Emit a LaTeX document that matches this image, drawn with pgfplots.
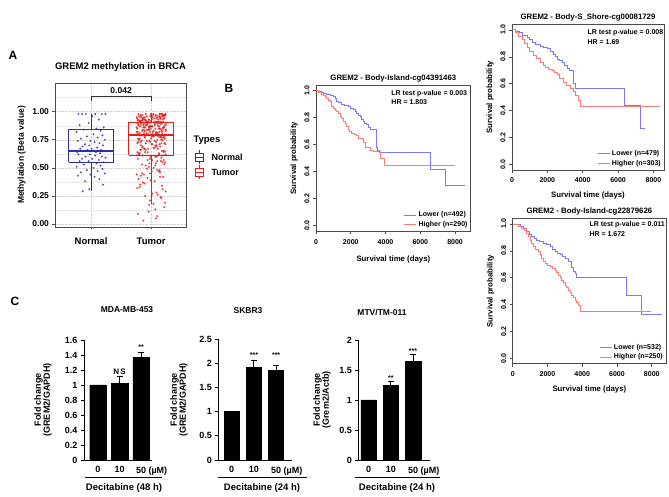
\documentclass[border=0pt]{standalone}
\usepackage{pgfplots}
\pgfplotsset{compat=1.18}
\usepackage{pgfplotstable}
\usepackage{fontspec}
\setmainfont{Liberation Sans}
\definecolor{nblue}{RGB}{45,45,175}
\definecolor{tred}{RGB}{228,30,30}
\definecolor{kmblue}{RGB}{120,120,255}
\definecolor{kmred}{RGB}{255,120,120}
\newcommand\bfs[1]{\fontsize{#1}{#1}\selectfont\bfseries}

\pgfplotstableread{
x y
0.79 0.98
1.07 0.98
1.18 0.98
0.91 0.98
1.24 0.98
0.85 0.98
1.02 0.96
1.13 0.93
0.96 0.90
0.81 0.88
1.21 0.86
1.09 0.85
0.88 0.84
1.16 0.83
0.76 0.82
1.04 0.80
1.19 0.79
0.93 0.78
1.11 0.77
0.83 0.76
1.23 0.75
0.99 0.74
0.78 0.74
1.06 0.73
1.14 0.72
0.90 0.71
1.20 0.70
0.97 0.70
0.86 0.69
1.10 0.68
0.82 0.67
1.01 0.67
1.17 0.66
0.94 0.66
1.22 0.65
0.89 0.65
1.08 0.64
0.77 0.64
1.15 0.63
0.98 0.62
0.79 0.62
1.07 0.61
1.18 0.60
0.91 0.60
1.24 0.59
0.85 0.58
1.02 0.58
1.13 0.57
0.96 0.56
0.81 0.56
1.21 0.55
1.09 0.54
0.88 0.53
1.16 0.52
0.76 0.51
1.04 0.50
1.19 0.49
0.93 0.48
1.11 0.47
0.83 0.46
1.23 0.45
0.99 0.44
0.78 0.43
1.06 0.42
1.14 0.40
0.90 0.38
1.20 0.35
0.97 0.31
0.86 0.29
}\normalpts

\pgfplotstableread{
x y
1.91 0.98
2.21 0.97
1.93 0.96
2.14 0.98
2.01 0.95
2.15 0.94
1.85 0.97
1.88 0.93
1.83 0.92
2.20 0.96
1.94 0.91
1.79 0.98
2.13 0.90
1.76 0.95
1.99 0.97
1.86 0.94
1.89 0.93
2.18 0.96
1.81 0.92
2.19 0.98
2.06 0.91
1.82 0.95
1.77 0.90
2.24 0.97
2.09 0.94
2.11 0.96
1.90 0.93
2.17 0.98
1.98 0.92
2.02 0.95
2.16 0.91
2.23 0.97
1.97 0.90
2.22 0.94
2.07 0.96
1.96 0.93
2.04 0.98
1.78 0.92
2.10 0.95
2.08 0.97
1.91 0.91
2.21 0.94
1.93 0.90
2.14 0.96
2.01 0.93
2.15 0.98
1.85 0.92
1.88 0.95
1.83 0.97
2.20 0.91
1.94 0.89
1.79 0.88
2.13 0.87
1.76 0.86
1.99 0.85
1.86 0.84
1.89 0.83
2.18 0.82
1.81 0.81
2.19 0.80
2.06 0.89
1.82 0.87
1.77 0.85
2.24 0.83
2.09 0.81
2.11 0.88
1.90 0.86
2.17 0.84
1.98 0.82
2.02 0.80
2.16 0.89
2.23 0.88
1.97 0.87
2.22 0.86
2.07 0.85
1.96 0.84
2.04 0.83
1.78 0.82
2.10 0.81
2.08 0.80
1.91 0.88
2.21 0.86
1.93 0.84
2.14 0.82
2.01 0.87
2.15 0.85
1.85 0.83
1.88 0.81
1.83 0.89
2.20 0.86
1.94 0.84
1.79 0.88
2.13 0.85
1.76 0.82
1.99 0.87
1.86 0.79
1.89 0.78
2.18 0.77
1.81 0.76
2.19 0.75
2.06 0.74
1.82 0.73
1.77 0.72
2.24 0.71
2.09 0.70
2.11 0.79
1.90 0.77
2.17 0.75
1.98 0.73
2.02 0.71
2.16 0.78
2.23 0.76
1.97 0.74
2.22 0.72
2.07 0.70
1.96 0.79
2.04 0.78
1.78 0.76
2.10 0.75
2.08 0.73
1.91 0.72
2.21 0.77
1.93 0.74
2.14 0.71
2.01 0.78
2.15 0.69
1.85 0.68
1.88 0.67
1.83 0.66
2.20 0.65
1.94 0.64
1.79 0.63
2.13 0.62
1.76 0.61
1.99 0.60
1.86 0.69
1.89 0.67
2.18 0.65
1.81 0.63
2.19 0.61
2.06 0.68
1.82 0.66
1.77 0.64
2.24 0.62
2.09 0.60
2.11 0.67
1.90 0.64
2.17 0.59
1.98 0.58
2.02 0.57
2.16 0.56
2.23 0.55
1.97 0.54
2.22 0.53
2.07 0.52
1.96 0.51
2.04 0.50
1.78 0.58
2.10 0.56
2.08 0.54
1.91 0.52
2.21 0.57
1.93 0.49
2.14 0.48
2.01 0.47
2.15 0.46
1.85 0.45
1.88 0.44
1.83 0.43
2.20 0.42
1.94 0.41
1.79 0.40
2.13 0.47
1.76 0.44
1.99 0.39
1.86 0.37
1.89 0.36
2.18 0.34
1.81 0.33
2.19 0.31
2.06 0.38
1.82 0.35
1.77 0.32
2.24 0.29
2.09 0.28
2.11 0.26
1.90 0.25
2.17 0.23
1.98 0.21
2.02 0.27
2.16 0.24
2.23 0.19
1.97 0.17
2.22 0.15
2.07 0.13
1.96 0.11
2.04 0.18
1.78 0.09
2.10 0.07
2.08 0.05
1.87 0.03
2.03 0.97
1.84 0.95
2.12 0.93
1.95 0.91
2.25 0.89
1.80 0.96
2.05 0.94
1.92 0.92
2.18 0.90
1.87 0.88
2.00 0.98
2.22 0.96
1.78 0.93
2.08 0.91
1.97 0.87
2.15 0.95
1.82 0.92
2.11 0.90
1.89 0.86
2.20 0.97
2.20 0.85
1.89 0.83
2.11 0.81
1.82 0.79
2.15 0.77
1.97 0.84
2.08 0.82
1.78 0.80
2.22 0.78
2.00 0.76
1.87 0.86
2.18 0.83
1.92 0.81
2.05 0.79
1.80 0.75
2.25 0.84
1.95 0.80
2.12 0.78
1.84 0.74
2.03 0.82
1.99 0.96
2.16 0.94
1.81 0.92
2.09 0.90
1.93 0.88
2.23 0.97
1.86 0.93
2.13 0.91
1.79 0.89
2.02 0.87
1.90 0.95
2.19 0.93
1.84 0.90
2.06 0.88
1.96 0.86
2.24 0.98
1.77 0.94
2.11 0.91
1.88 0.89
2.14 0.85
2.17 0.72
1.83 0.70
2.04 0.68
1.91 0.66
2.21 0.64
1.78 0.73
2.09 0.69
1.95 0.67
2.13 0.63
1.86 0.61
2.01 0.71
2.23 0.65
1.80 0.62
2.07 0.60
1.94 0.57
2.19 0.55
1.85 0.53
2.10 0.48
1.98 0.45
2.15 0.42
}\tumorpts

\pgfplotsset{
  kmaxis/.style={scale only axis, xmin=0, ymin=-0.04, ymax=1.04,
    xtick={0,2000,4000,6000,8000}, ytick={0,0.2,0.4,0.6,0.8,1},
    yticklabels={0.0,0.2,0.4,0.6,0.8,1.0},
    scaled ticks=false,
    /pgf/number format/assume math mode=true,
    /pgf/number format/1000 sep={},
    yticklabel style={rotate=90, anchor=south},
    xticklabel style={yshift=-1.5pt},
    tick align=outside, tick pos=left, major tick length=3pt,
    axis line style={black!70, line width=0.6pt}, tick style={black!70, line width=0.6pt},
    ticklabel style={font=\bfs{7}},
    label style={font=\bfs{7.8}},
    xlabel={Survival time (days)}, ylabel={Survival probability},
    xlabel style={yshift=-5pt},
    title style={font=\bfs{7.8}, at={(0.5,1)}, anchor=base, yshift=-1pt},
    legend style={at={(rel axis cs:1,0)}, anchor=south east, draw=none, fill=none,
      font=\bfs{7}, row sep=-1pt, inner sep=1pt, cells={anchor=west}},
    clip=false,
  },
  lowleg/.style={legend image code/.code={\draw[kmblue, line width=0.9pt] (0pt,0pt) -- (12pt,0pt);}},
  highleg/.style={legend image code/.code={\draw[kmred, line width=0.9pt] (0pt,0pt) -- (12pt,0pt);}},
  barax/.style={scale only axis, axis x line*=bottom, axis y line*=left, ymin=0,
    xtick={0,1,2}, xticklabels={0,10,50\rlap{ (µM)}},
    /pgf/number format/assume math mode=true,
    major x tick style={draw=none}, tick align=outside, major tick length=3pt,
    axis line style={black, line width=0.8pt, -}, tick style={black, line width=0.7pt},
    ticklabel style={font=\bfs{9}}, clip=false},
}

\begin{document}
\begin{tikzpicture}
\path[use as bounding box] (0pt,0pt) rectangle (669pt,497pt);

% ---------------- Panel A ----------------
\node[font=\bfs{12}] at (13pt,442pt) {A};
\begin{axis}[at={(55pt,270pt)}, anchor=south west, scale only axis, width=131pt, height=144pt,
  xmin=0.4, xmax=2.58, ymin=-0.027, ymax=1.256,
  xtick={1,2}, xticklabels={Normal,Tumor},
  ytick={0,0.25,0.5,0.75,1}, yticklabels={0.00,0.25,0.50,0.75,1.00},
  minor ytick={0.125,0.375,0.625,0.875,1.125},
  xmajorgrids, ymajorgrids, yminorgrids,
  major grid style={gray!35, densely dotted, line width=0.5pt},
  minor grid style={gray!25, densely dotted, line width=0.4pt},
  minor tick length=0pt, major tick length=2.5pt, tick align=outside, tick pos=left,
  axis line style={gray!60!black, line width=0.7pt}, tick style={gray!60!black, line width=0.6pt},
  xticklabel style={font=\bfs{9.5}, yshift=-5pt}, yticklabel style={font=\bfs{8.5}},
  ylabel={Methylation (Beta value)}, ylabel style={font=\bfs{8.5}},
  title={GREM2 methylation in BRCA},
  title style={font=\bfs{9.5}, at={(0.5,1)}, anchor=base, yshift=7.5pt},
  clip=false]
\addplot[only marks, mark=*, color=nblue, mark size=0.8pt, mark options={draw=nblue, fill=nblue, opacity=0.7}] table {\normalpts};
\addplot[only marks, mark=*, color=tred, mark size=0.85pt, mark options={draw=tred, fill=tred, opacity=0.7}] table {\tumorpts};
% Normal box
\addplot[nblue, line width=1pt] coordinates {(0.625,0.55) (1.375,0.55) (1.375,0.84) (0.625,0.84) (0.625,0.55)};
\addplot[nblue, line width=1.8pt] coordinates {(0.625,0.65) (1.375,0.65)};
\addplot[nblue, line width=1pt] coordinates {(1,0.84) (1,0.98)};
\addplot[nblue, line width=1pt] coordinates {(1,0.55) (1,0.29)};
% Tumor box
\addplot[tred, line width=1pt] coordinates {(1.625,0.61) (2.375,0.61) (2.375,0.90) (1.625,0.90) (1.625,0.61)};
\addplot[tred, line width=1.8pt] coordinates {(1.625,0.79) (2.375,0.79)};
\addplot[tred, line width=1pt] coordinates {(2,0.90) (2,0.98)};
\addplot[tred, line width=1pt] coordinates {(2,0.61) (2,0.18)};
\addplot[black!80, line width=0.6pt] coordinates {(1,1.10) (1,1.134) (2,1.134) (2,1.10)};
\node[font=\bfs{8.5}] at (axis cs:1.5,1.185) {0.042};
\end{axis}
% legend A
\node[anchor=west, font=\bfs{9.5}] at (190pt,357pt) {Types};
\draw[nblue, line width=0.8pt] (195pt,344pt) rectangle (203pt,336pt);
\draw[nblue, line width=0.8pt] (195pt,340pt) -- (203pt,340pt) (199pt,347pt) -- (199pt,344pt) (199pt,336pt) -- (199pt,333pt);
\node[anchor=west, font=\bfs{9}] at (208pt,340pt) {Normal};
\draw[tred, line width=0.8pt] (195pt,329pt) rectangle (203pt,321pt);
\draw[tred, line width=0.8pt] (195pt,325pt) -- (203pt,325pt) (199pt,332pt) -- (199pt,329pt) (199pt,321pt) -- (199pt,318pt);
\node[anchor=west, font=\bfs{9}] at (208pt,325pt) {Tumor};

% ---------------- Panel B ----------------
\node[font=\bfs{12}] at (229pt,409pt) {B};
\begin{axis}[kmaxis, at={(316pt,265.9pt)}, anchor=south west, width=154.7pt, height=145.8pt,
  xmax=8900, title={GREM2 - Body-Island-cg04391463}]
\addplot[const plot, kmblue, line width=0.8pt, lowleg] coordinates {(0,1)(150,0.995)(300,0.99)(450,0.98)(614,0.973)(800,0.965)(997,0.956)(1100,0.94)(1189,0.92)(1300,0.91)(1477,0.90)(1650,0.89)(1860,0.88)(2000,0.87)(2148,0.86)(2250,0.845)(2340,0.83)(2450,0.82)(2532,0.81)(2628,0.79)(2700,0.77)(2800,0.76)(2915,0.75)(3000,0.73)(3107,0.71)(3491,0.58)(3560,0.56)(3644,0.54)(6560,0.42)(7442,0.30)(8575,0.30)};
\addlegendentry{Lower (n=492)}
\addplot[const plot, kmred, line width=0.8pt, highleg] coordinates {(0,1)(120,0.99)(230,0.985)(330,0.975)(422,0.968)(520,0.955)(614,0.943)(700,0.93)(806,0.92)(900,0.88)(1000,0.87)(1093,0.857)(1190,0.845)(1285,0.83)(1380,0.81)(1477,0.795)(1570,0.775)(1669,0.758)(1760,0.735)(1860,0.71)(1950,0.70)(2052,0.684)(2200,0.675)(2340,0.67)(2436,0.647)(2700,0.62)(2820,0.58)(3150,0.56)(3299,0.548)(3683,0.50)(3913,0.45)(8000,0.45)};
\addlegendentry{Higher (n=290)}
\node[anchor=west, font=\bfs{7}, yshift=-8pt] at (rel axis cs:0.465,1) {LR test p-value = 0.003};
\node[anchor=west, font=\bfs{7}, yshift=-17pt] at (rel axis cs:0.465,1) {HR = 1.803};
\end{axis}

\begin{axis}[kmaxis, at={(512pt,327pt)}, anchor=south west, width=152pt, height=145.5pt,
  xmax=8600, title={GREM2 - Body-S\_Shore-cg00081729}, xlabel style={yshift=3pt}]
\addplot[const plot, kmblue, line width=0.8pt, lowleg] coordinates {(0,1)(200,0.99)(400,0.98)(600,0.96)(847,0.945)(1000,0.93)(1130,0.91)(1350,0.895)(1600,0.88)(1800,0.87)(1976,0.86)(2150,0.84)(2353,0.82)(2450,0.80)(2541,0.78)(2700,0.77)(2824,0.76)(2950,0.74)(3106,0.715)(3250,0.70)(3460,0.60)(3576,0.567)(6350,0.44)(7250,0.27)(7530,0.27)};
\addlegendentry{Lower (n=479)}
\addplot[const plot, kmred, line width=0.8pt, highleg] coordinates {(0,1)(188,0.98)(380,0.955)(565,0.93)(700,0.90)(847,0.87)(1000,0.84)(1224,0.81)(1400,0.785)(1600,0.76)(1750,0.74)(1882,0.72)(2050,0.71)(2259,0.70)(2400,0.685)(2541,0.67)(2700,0.64)(2918,0.61)(3100,0.59)(3294,0.567)(3450,0.54)(3576,0.51)(3765,0.475)(3859,0.43)(8376,0.43)};
\addlegendentry{Higher (n=303)}
\node[anchor=west, font=\bfs{7}, yshift=-8pt] at (rel axis cs:0.474,1) {LR test p-value = 0.008};
\node[anchor=west, font=\bfs{7}, yshift=-17.5pt] at (rel axis cs:0.474,1) {HR = 1.69};
\end{axis}

\begin{axis}[kmaxis, at={(512.7pt,133.3pt)}, anchor=south west, width=153.3pt, height=145.1pt,
  xmax=8820, title={GREM2 - Body-Island-cg22879626}, xlabel style={yshift=3pt}]
\addplot[const plot, kmblue, line width=0.8pt, lowleg] coordinates {(0,1)(422,0.98)(600,0.965)(806,0.943)(950,0.925)(1094,0.906)(1250,0.89)(1381,0.88)(1550,0.87)(1765,0.856)(1950,0.845)(2149,0.83)(2300,0.81)(2436,0.794)(2600,0.78)(2724,0.77)(2850,0.76)(3012,0.744)(3204,0.725)(3396,0.68)(3492,0.645)(3588,0.633)(3683,0.60)(6523,0.466)(7386,0.33)(8576,0.33)};
\addlegendentry{Lower (n=532)}
\addplot[const plot, kmred, line width=0.8pt, highleg] coordinates {(0,1)(300,0.985)(518,0.968)(650,0.95)(806,0.93)(900,0.905)(998,0.88)(1100,0.855)(1190,0.83)(1330,0.81)(1477,0.794)(1569,0.77)(1669,0.744)(1760,0.725)(1861,0.707)(2000,0.695)(2149,0.682)(2300,0.67)(2436,0.657)(2530,0.64)(2628,0.62)(2720,0.60)(2820,0.583)(2920,0.565)(3012,0.546)(3110,0.528)(3204,0.509)(3300,0.49)(3396,0.471)(3490,0.452)(3588,0.434)(3680,0.415)(3780,0.397)(3914,0.347)(7942,0.347)};
\addlegendentry{Higher (n=250)}
\node[anchor=west, font=\bfs{7}, yshift=-6.5pt] at (rel axis cs:0.478,1) {LR test p-value = 0.011};
\node[anchor=west, font=\bfs{7}, yshift=-15.5pt] at (rel axis cs:0.478,1) {HR = 1.672};
\end{axis}

% ---------------- Panel C ----------------
\node[font=\bfs{12}] at (15pt,196pt) {C};
\begin{axis}[barax, at={(84pt,37pt)}, anchor=south west, width=68pt, height=120pt,
  xmin=-0.65, xmax=2.51, ymax=1.6, ytick={0,0.2,0.4,0.6,0.8,1,1.2,1.4,1.6}]
\addplot[ybar, bar width=16.5pt, fill=black, draw=black,
  error bars/.cd, y dir=plus, y explicit, error bar style={black, line width=0.8pt},
  error mark options={black, rotate=90, mark size=3pt, line width=0.8pt}]
  coordinates {(0,1.0) +- (0,0) (1,1.02) +- (0,0.09) (2,1.37) +- (0,0.07)};
\node[font=\bfs{8}] at (axis cs:1,1.18) {N\,S};
\node[font=\bfs{7}] at (axis cs:2,1.51) {**};
\end{axis}
\node[font=\bfs{8.5}] at (127pt,187pt) {MDA-MB-453};
\node[rotate=90, align=center, font=\bfs{9}] at (43pt,97pt) {Fold change\\(GREM2/GAPDH)};
\draw[black, line width=0.6pt] (85pt,20pt) -- (162pt,20pt);
\node[font=\bfs{9.5}] at (124pt,9pt) {Decitabine (48 h)};

\begin{axis}[barax, at={(218.3pt,37pt)}, anchor=south west, width=73.4pt, height=120.8pt,
  xmin=-0.6, xmax=2.7, ymax=2.5, ytick={0,0.5,1,1.5,2,2.5}]
\addplot[ybar, bar width=15pt, fill=black, draw=black,
  error bars/.cd, y dir=plus, y explicit, error bar style={black, line width=0.8pt},
  error mark options={black, rotate=90, mark size=3pt, line width=0.8pt}]
  coordinates {(0,1.0) +- (0,0) (1,1.92) +- (0,0.14) (2,1.85) +- (0,0.11)};
\node[font=\bfs{7}] at (axis cs:1,2.17) {***};
\node[font=\bfs{7}] at (axis cs:2,2.17) {***};
\end{axis}
\node[font=\bfs{8.5}] at (248pt,186pt) {SKBR3};
\node[rotate=90, align=center, font=\bfs{9}] at (179pt,97pt) {Fold change\\(GREM2/GAPDH)};
\draw[black, line width=0.6pt] (218pt,20pt) -- (307pt,20pt);
\node[font=\bfs{9.5}] at (262pt,9pt) {Decitabine (24 h)};

\begin{axis}[barax, at={(358.3pt,37pt)}, anchor=south west, width=71.7pt, height=120pt,
  xmin=-0.46, xmax=2.76, ymax=2, ytick={0,0.5,1,1.5,2}]
\addplot[ybar, bar width=15.5pt, fill=black, draw=black,
  error bars/.cd, y dir=plus, y explicit, error bar style={black, line width=0.8pt},
  error mark options={black, rotate=90, mark size=3pt, line width=0.8pt}]
  coordinates {(0,1.0) +- (0,0) (1,1.24) +- (0,0.07) (2,1.64) +- (0,0.12)};
\node[font=\bfs{7}] at (axis cs:1,1.37) {**};
\node[font=\bfs{7}] at (axis cs:2,1.81) {***};
\end{axis}
\node[font=\bfs{8.5}] at (382pt,184pt) {MTV/TM-011};
\node[rotate=90, align=center, font=\bfs{9}] at (322pt,97pt) {Fold change\\(Grem2/Actb)};
\draw[black, line width=0.6pt] (355pt,20pt) -- (440pt,20pt);
\node[font=\bfs{9.5}] at (397pt,9pt) {Decitabine (24 h)};
\end{tikzpicture}
\end{document}
